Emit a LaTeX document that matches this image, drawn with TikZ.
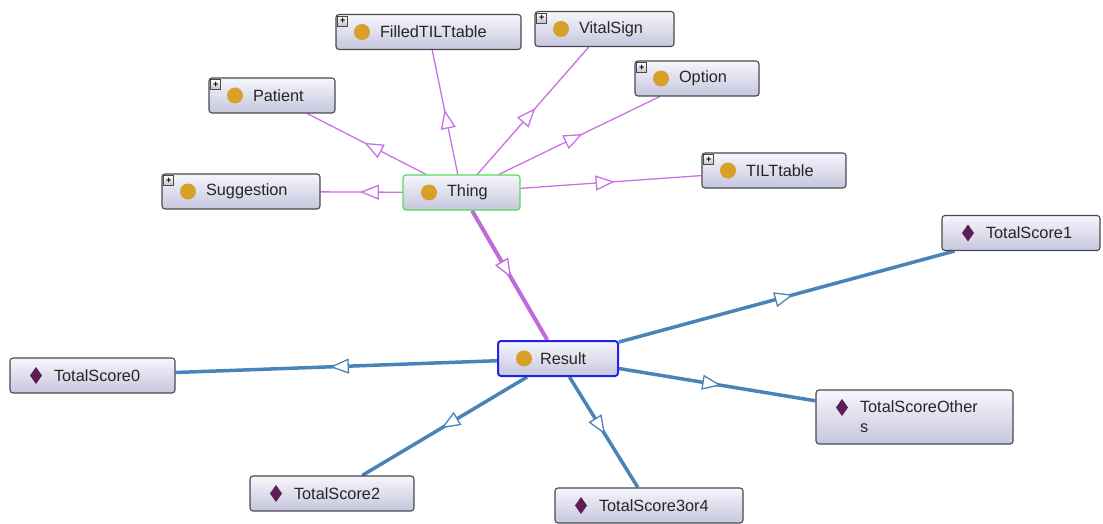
\documentclass[tikz,border=0pt]{standalone}
\usepackage{fontspec}
\setmainfont{Liberation Sans}
\usetikzlibrary{arrows.meta,decorations.markings,backgrounds}

\definecolor{boxline}{RGB}{72,72,82}
\definecolor{boxtop}{RGB}{246,246,252}
\definecolor{boxbottom}{RGB}{198,198,222}
\definecolor{classdot}{RGB}{214,160,42}
\definecolor{indiv}{RGB}{92,30,84}
\definecolor{subedge}{RGB}{204,112,232}
\definecolor{instedge}{RGB}{72,132,184}
\definecolor{thingline}{RGB}{84,220,84}
\definecolor{resultline}{RGB}{34,34,232}

\tikzset{
  entity/.style={rectangle, rounded corners=3pt, draw=boxline, line width=1.1pt,
    top color=boxtop, bottom color=boxbottom, minimum height=35pt,
    inner xsep=0pt, inner ysep=2pt, text width=#1, align=left,
    font=\fontsize{16.3}{20}\selectfont, text=black!85},
  classbox/.style={entity=#1, path picture={
      \fill[classdot] ([shift={(26pt,-17.5pt)}]path picture bounding box.north west) circle (8pt);}},
  indivbox/.style={entity=#1, path picture={
      \fill[indiv, sharp corners] ([shift={(26pt,-17.5pt)}]path picture bounding box.north west)
        ++(0pt,8.5pt) -- ++(-6pt,-8.5pt) -- ++(6pt,-8.5pt) -- ++(6pt,8.5pt) -- cycle;}},
  expandable/.style={append after command={
      \pgfextra{\let\boxname\tikzlastnode}
      ([shift={(2pt,-2pt)}]\boxname.north west) node[anchor=north west, rectangle,
        draw=boxline, line width=0.7pt, top color=white, bottom color=black!25,
        minimum size=10pt, inner sep=0pt, font=\fontsize{9}{9}\selectfont\bfseries]
        (\boxname-plus) {+}}},
  midtip/.style={decoration={markings, mark=at position 0.52 with
      {\arrow{Triangle[fill=white, line width=1.3pt, length=19pt, width=15pt]}}},
      postaction={decorate}},
  subof/.style={draw=subedge, line width=1.3pt, midtip},
  subthick/.style={draw=subedge!95!black, line width=4pt, midtip},
  instof/.style={draw=instedge, line width=3.5pt, midtip},
}

\begin{document}
\begin{tikzpicture}[x=1pt, y=-1pt]
\useasboundingbox (0,0) rectangle (1103,524);

% classes
\node[classbox=185pt, expandable] (filled) at (428.5,32) {\hspace*{44pt}FilledTILTtable};
\node[classbox=139pt, expandable] (vital) at (604.5,29) {\hspace*{44pt}VitalSign};
\node[classbox=124pt, expandable] (option) at (697,78.5) {\hspace*{44pt}Option};
\node[classbox=126pt, expandable] (patient) at (272,95.5) {\hspace*{44pt}Patient};
\node[classbox=144pt, expandable] (tilt) at (774,170.5) {\hspace*{44pt}TILTtable};
\node[classbox=158pt, expandable] (suggestion) at (241,191.5) {\hspace*{44pt}Suggestion};
\node[classbox=117pt, draw=thingline] (thing) at (461.5,192.5) {\hspace*{44pt}Thing};
\node[classbox=120pt, draw=resultline, line width=2pt] (result) at (558,358.5) {\hspace*{42pt}Result};

% individuals
\node[indivbox=158pt] (ts1) at (1021,233) {\hspace*{44pt}TotalScore1};
\node[indivbox=165pt] (ts0) at (92.5,375.5) {\hspace*{44pt}TotalScore0};
\node[indivbox=197pt, minimum height=54pt] (tsothers) at (914.5,417)
  {\hspace*{44pt}TotalScoreOther\\\hspace*{44pt}s};
\node[indivbox=164pt] (ts2) at (332,493.5) {\hspace*{44pt}TotalScore2};
\node[indivbox=188pt] (ts34) at (649,505.5) {\hspace*{44pt}TotalScore3or4};

% connectors
\begin{scope}[on background layer]
  \draw[subof] (thing) -- (filled);
  \draw[subof] (thing) -- (vital);
  \draw[subof] (thing) -- (option);
  \draw[subof] (thing) -- (patient);
  \draw[subof] (thing) -- (tilt);
  \draw[subof] (thing) -- (suggestion);
  \draw[subthick] (thing) -- (result);
  \draw[instof] (result) -- (ts1);
  \draw[instof] (result) -- (ts0);
  \draw[instof] (result) -- (tsothers);
  \draw[instof] (result) -- (ts2);
  \draw[instof] (result) -- (ts34);
\end{scope}
\end{tikzpicture}
\end{document}
